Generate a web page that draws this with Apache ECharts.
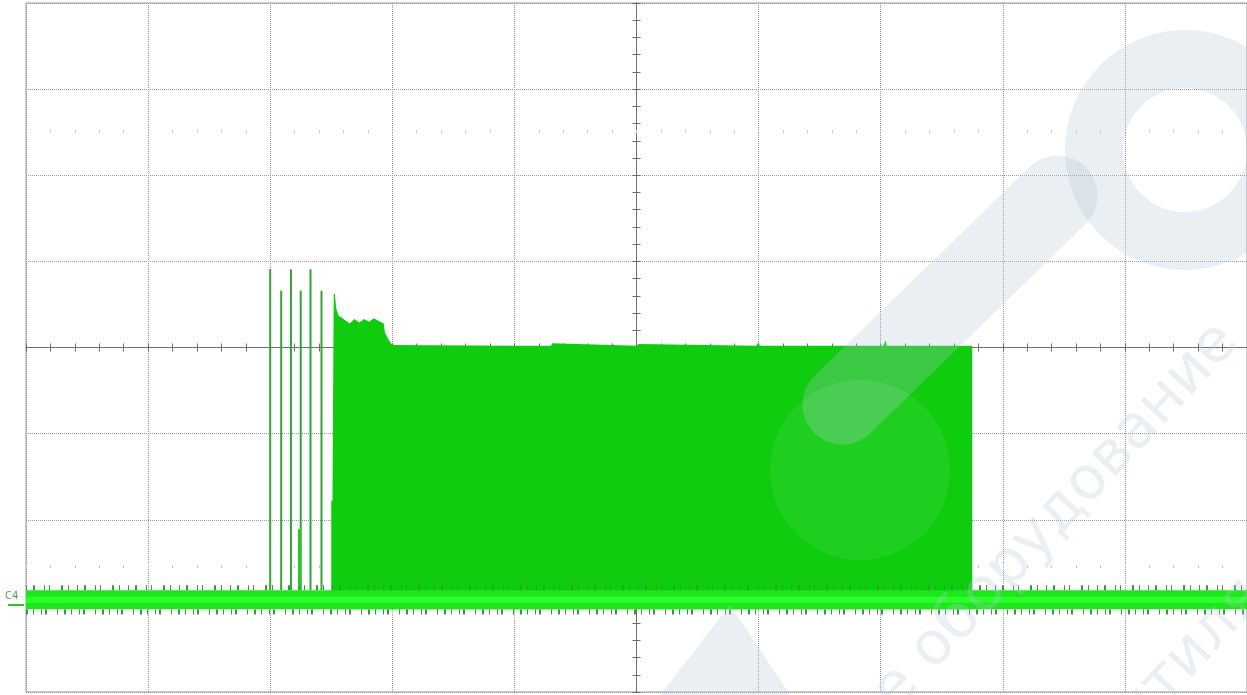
<!DOCTYPE html>
<html>
<head>
<meta charset="utf-8">
<script src="https://cdn.jsdelivr.net/npm/echarts@6/dist/echarts.min.js"></script>
<style>
  html, body { margin: 0; padding: 0; background: #ffffff; }
  #chart { width: 1247px; height: 695px; }
</style>
</head>
<body>
<div id="chart"></div>
<script>
// Screen is 10 x 8 divisions, centred on (0, 0); values are in divisions.
const xRange = [-5, 5];
const yRange = [-4, 4];

// Channel 4 baseline level (upper / lower edge of the noise band)
const baseUpper = -2.82;
const baseLower = -3.04;
const baseCenter = -2.93;

// Start-up pulses before the burst: [x, bottom, top]
const pulses = [
  [-3.00, -2.82, 0.91],
  [-2.91, -2.82, 0.66],
  [-2.83, -2.82, 0.91],
  [-2.75, -2.82, 0.66],
  [-2.67, -2.82, 0.91],
  [-2.58, -2.82, 0.66]
];
// Short pulse inside the pulse group: [x, bottom, top]
const stubPulses = [
  [-2.76, -2.82, -2.11]
];

// Upper envelope of the burst: x positions and peak levels
const burstX = [-2.50, -2.49, -2.48, -2.47, -2.46, -2.44, -2.42, -2.38, -2.35, -2.31,
                -2.27, -2.23, -2.19, -2.15, -2.10, -2.07, -2.06, -2.03, -2.00,
                -1.00, -0.70, -0.69, 0.00, 0.02, 0.98, 1.00, 1.01, 2.02, 2.04, 2.05, 2.75];
const burstTop = [-1.78, -1.78, 0.62, 0.62, 0.46, 0.37, 0.35, 0.31, 0.28, 0.33,
                  0.29, 0.33, 0.30, 0.34, 0.30, 0.28, 0.17, 0.09, 0.03,
                  0.02, 0.02, 0.05, 0.02, 0.04, 0.02, 0.06, 0.02, 0.02, 0.08, 0.02, 0.02];
// Lower envelope of the burst
const burstBottom = -3.04;

// Polygon between an upper envelope and a flat lower level
function bandItem(xs, tops, bottom, color) {
  return function (params, api) {
    const pts = [];
    for (let i = 0; i < xs.length; i++) pts.push(api.coord([xs[i], tops[i]]));
    for (let i = xs.length - 1; i >= 0; i--) pts.push(api.coord([xs[i], bottom]));
    return { type: 'polygon', shape: { points: pts }, style: { fill: color } };
  };
}

function pulseItem(color, width) {
  return function (params, api) {
    const a = api.coord([api.value(0), api.value(1)]);
    const b = api.coord([api.value(0), api.value(2)]);
    return {
      type: 'line',
      shape: { x1: a[0], y1: a[1], x2: b[0], y2: b[1] },
      style: { stroke: color, lineWidth: width }
    };
  };
}

const chart = echarts.init(document.getElementById('chart'), null, { renderer: 'canvas' });

const centreAxisStyle = {
  axisLine: { show: true, onZero: true, lineStyle: { color: '#6e6e6e', width: 1 } },
  axisTick: { show: true, length: 4, lineStyle: { color: '#6e6e6e' } },
  minorTick: { show: true, splitNumber: 5, length: 4, lineStyle: { color: '#6e6e6e' } },
  axisLabel: { show: false }
};
const faintMarks = {
  axisLine: { show: false, onZero: false },
  axisTick: { show: true, length: 3, lineStyle: { color: '#c8c8c8' } },
  minorTick: { show: true, splitNumber: 5, length: 3, lineStyle: { color: '#c8c8c8' } },
  axisLabel: { show: false },
  splitLine: { show: false }
};

// Irregular dash patterns for the trace noise fringes
const fringeDashTop = [1, 6, 2, 9, 1, 4, 1, 11, 2, 5, 1, 8];
const fringeDashBottom = [2, 5, 1, 7, 1, 3, 2, 10, 1, 6];

const wm = 'rgba(178,198,212,0.28)';

chart.setOption({
  animation: false,
  backgroundColor: '#ffffff',
  grid: { left: 26, right: 0, top: 3, bottom: 3, show: true, borderColor: '#9a9a9a', borderWidth: 1 },
  xAxis: [
    Object.assign({ type: 'value', position: 'bottom', min: xRange[0], max: xRange[1], interval: 1,
      splitLine: { show: true, lineStyle: { color: '#9a9a9a', type: 'dotted', width: 1 } } }, centreAxisStyle),
    Object.assign({ type: 'value', position: 'top', min: xRange[0], max: xRange[1], interval: 1,
      splitLine: { show: false } }, centreAxisStyle),
    Object.assign({ type: 'value', position: 'top', offset: -130, min: xRange[0], max: xRange[1], interval: 1 }, faintMarks),
    Object.assign({ type: 'value', position: 'bottom', offset: -127, min: xRange[0], max: xRange[1], interval: 1 }, faintMarks)
  ],
  yAxis: [
    Object.assign({ type: 'value', position: 'left', min: yRange[0], max: yRange[1], interval: 1,
      splitLine: { show: true, lineStyle: { color: '#9a9a9a', type: 'dotted', width: 1 } } }, centreAxisStyle),
    Object.assign({ type: 'value', position: 'right', min: yRange[0], max: yRange[1], interval: 1,
      splitLine: { show: false } }, centreAxisStyle)
  ],
  series: [
    {
      type: 'custom', name: 'burst', xAxisIndex: 0, yAxisIndex: 0, z: 3,
      renderItem: bandItem(burstX, burstTop, burstBottom, '#0fcc0f'),
      data: [[0, 0]]
    },
    {
      type: 'custom', name: 'baseline', xAxisIndex: 0, yAxisIndex: 0, z: 4,
      renderItem: bandItem(xRange, [baseUpper, baseUpper], baseLower, '#1de61d'),
      data: [[0, 0]]
    },
    {
      type: 'line', name: 'baseline core', xAxisIndex: 0, yAxisIndex: 0, z: 5,
      data: [[xRange[0], baseCenter], [xRange[1], baseCenter]],
      symbol: 'none', lineStyle: { color: '#2bff2b', width: 6 }
    },
    {
      type: 'line', name: 'noise top', xAxisIndex: 0, yAxisIndex: 0, z: 4,
      data: [[xRange[0], baseUpper + 0.03], [xRange[1], baseUpper + 0.03]],
      symbol: 'none', lineStyle: { color: '#2f9f2f', width: 5, type: fringeDashTop }
    },
    {
      type: 'line', name: 'noise bottom', xAxisIndex: 0, yAxisIndex: 0, z: 4,
      data: [[xRange[0], baseLower - 0.03], [xRange[1], baseLower - 0.03]],
      symbol: 'none', lineStyle: { color: '#2f9f2f', width: 5, type: fringeDashBottom }
    },
    {
      type: 'custom', name: 'pulses', xAxisIndex: 0, yAxisIndex: 0, z: 3,
      renderItem: pulseItem('#36a336', 2),
      data: pulses
    },
    {
      type: 'custom', name: 'stub', xAxisIndex: 0, yAxisIndex: 0, z: 3,
      renderItem: pulseItem('#22cc22', 3),
      data: stubPulses
    }
  ],
  graphic: [
    { type: 'text', left: 5, top: 591, style: { text: 'C4', fill: '#4f9a6a', font: '10px "DejaVu Sans"' } },
    { type: 'rect', left: 8, top: 604, shape: { width: 16, height: 2 }, style: { fill: '#27c427' } },
    // site watermark: logo strokes and slogan
    { type: 'rect', x: 950, y: 300, rotation: -0.8, z: 100, originX: 0, originY: 0,
      shape: { x: -40, y: -190, width: 80, height: 380, r: 40 }, style: { fill: wm } },
    { type: 'ring', z: 100, shape: { cx: 1185, cy: 150, r: 120, r0: 62 }, style: { fill: wm } },
    { type: 'polygon', z: 100, shape: { points: [[660, 695], [730, 605], [790, 695]] }, style: { fill: wm } },
    { type: 'circle', z: 100, shape: { cx: 860, cy: 470, r: 90 }, style: { fill: 'rgba(255,255,255,0.07)' } },
    { type: 'text', x: 1030, y: 545, rotation: 0.82, z: 100,
      style: { text: 'ное оборудование', fill: wm, font: '60px "DejaVu Sans"', textAlign: 'center', textVerticalAlign: 'middle' } },
    { type: 'text', x: 1205, y: 640, rotation: 0.82, z: 100,
      style: { text: 'вентиляция', fill: wm, font: '60px "DejaVu Sans"', textAlign: 'center', textVerticalAlign: 'middle' } }
  ]
});
</script>
</body>
</html>
